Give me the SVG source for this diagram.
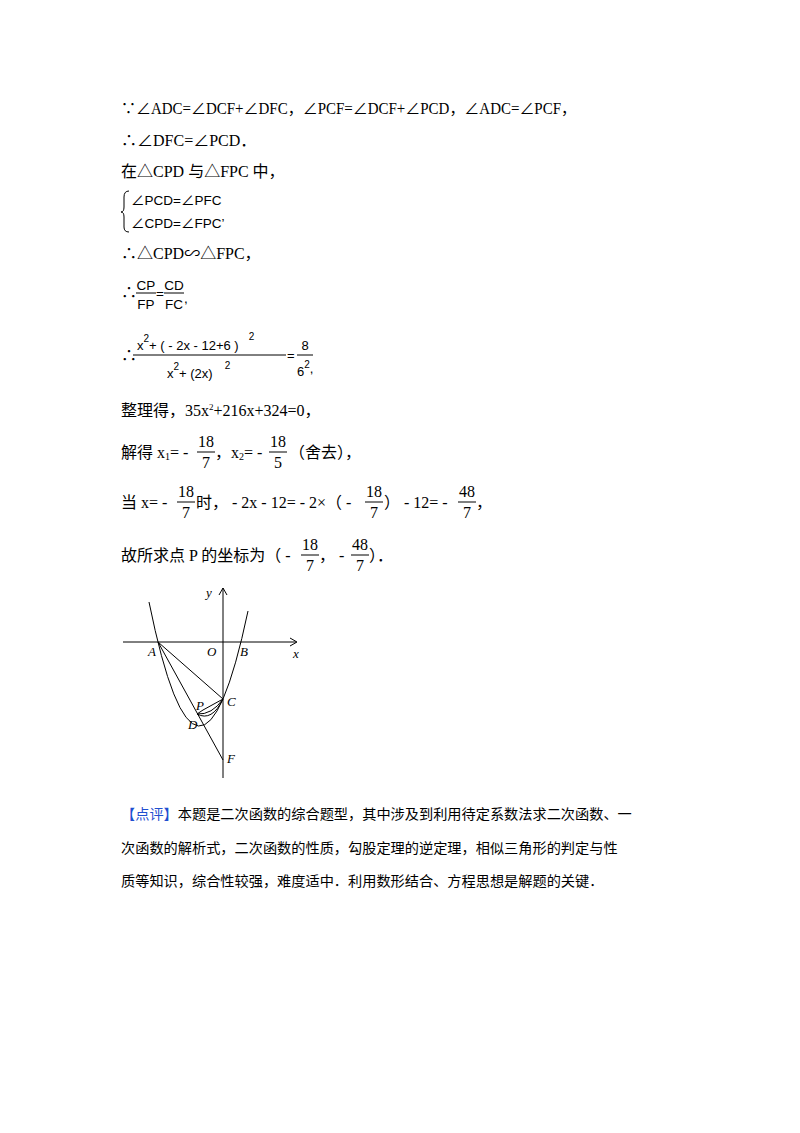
<svg xmlns="http://www.w3.org/2000/svg" width="800" height="1133" viewBox="0 0 800 1133">
<style>
text{font-family:"Liberation Serif","Noto Sans CJK SC",serif;font-size:16px;fill:#000}
.s{font-family:"Liberation Sans","Noto Sans CJK SC",sans-serif;font-size:13.5px}
.m{font-family:"Liberation Sans",sans-serif;font-size:13px}
.c{text-anchor:middle}
.cn{font-size:14.2px}
.l{font-family:"Liberation Serif",serif;font-style:italic;font-size:13px}
line,path{stroke:#000;fill:none;stroke-width:1}
</style>
<rect width="800" height="1133" fill="#fff"/>
<g id="text">
<text x="121" y="114" textLength="455" lengthAdjust="spacingAndGlyphs">∵∠ADC=∠DCF+∠DFC，∠PCF=∠DCF+∠PCD，∠ADC=∠PCF，</text>
<text x="121" y="146">∴∠DFC=∠PCD．</text>
<text x="121" y="177">在△CPD 与△FPC 中，</text>
<path d="M129 191 Q124 191 124 197 L124 207 Q124 212 121 212 Q124 212 124 217 L124 227 Q124 232 129 232"/>
<text class="s" x="131" y="205">∠PCD=∠PFC</text>
<text class="s" x="131" y="228">∠CPD=∠FPC’</text>
<text x="121" y="259">∴△CPD∽△FPC，</text>
<text x="121" y="298">∴</text>
<text class="s c" x="146" y="290">CP</text>
<line x1="136" y1="293" x2="156" y2="293"/>
<text class="s c" x="146" y="309">FP</text>
<text class="s" x="156" y="298">=</text>
<text class="s c" x="174" y="290">CD</text>
<line x1="164" y1="293" x2="184" y2="293"/>
<text class="s c" x="174" y="309">FC</text>
<text class="s" x="184" y="303">,</text>
<text x="121" y="361">∴</text>
<text class="m" x="137" y="350">x<tspan dy="-8" font-size="10">2</tspan><tspan dy="8">+ ( - 2x - 12+6 )</tspan><tspan dy="-10" dx="10" font-size="10">2</tspan></text>
<line x1="133" y1="355" x2="286" y2="355"/>
<text class="m" x="167" y="378">x<tspan dy="-8" font-size="10">2</tspan><tspan dy="8">+ (2x)</tspan><tspan dy="-9" dx="12" font-size="10">2</tspan></text>
<text class="m" x="287" y="360">=</text>
<text class="m c" x="305" y="350">8</text>
<line x1="297" y1="355" x2="313" y2="355"/>
<text class="m" x="297" y="376">6<tspan dy="-8" font-size="10">2</tspan><tspan dy="5">,</tspan></text>
<text x="121" y="416">整理得，35x<tspan dy="-6" font-size="9">2</tspan><tspan dy="6">+216x+324=0，</tspan></text>
<text x="121" y="458">解得 x<tspan font-size="10" dy="2">1</tspan><tspan dy="-2">= -</tspan></text>
<text class="c" x="206" y="447">18</text><line x1="197" y1="452" x2="215" y2="452"/><text class="c" x="206" y="468">7</text>
<text x="215" y="458">，x<tspan font-size="10" dy="2">2</tspan><tspan dy="-2">= -</tspan></text>
<text class="c" x="278" y="447">18</text><line x1="269" y1="452" x2="287" y2="452"/><text class="c" x="278" y="468">5</text>
<text x="289" y="458">（舍去），</text>
<text x="121" y="508">当 x= -</text>
<text class="c" x="186" y="497">18</text><line x1="177" y1="502" x2="195" y2="502"/><text class="c" x="186" y="518">7</text>
<text x="196" y="508">时， - 2x - 12= - 2×（ -</text>
<text class="c" x="374" y="497">18</text><line x1="365" y1="502" x2="383" y2="502"/><text class="c" x="374" y="518">7</text>
<text x="384" y="508">） - 12= -</text>
<text class="c" x="467" y="497">48</text><line x1="458" y1="502" x2="476" y2="502"/><text class="c" x="467" y="518">7</text>
<text x="476" y="508">，</text>
<text x="121" y="561">故所求点 P 的坐标为（ -</text>
<text class="c" x="310" y="550">18</text><line x1="301" y1="555" x2="319" y2="555"/><text class="c" x="310" y="571">7</text>
<text x="319" y="561">，  -</text>
<text class="c" x="360" y="550">48</text><line x1="351" y1="555" x2="369" y2="555"/><text class="c" x="360" y="571">7</text>
<text x="369" y="561">）．</text>
</g>
<g id="graph">
<line x1="123" y1="642" x2="296" y2="642"/>
<path d="M290 638 L297 642 L290 646"/>
<line x1="223" y1="778" x2="223" y2="588"/>
<path d="M219 595 L223 588 L227 595"/>
<path d="M149 602 Q198.5 845.5 248 611"/>
<line x1="158" y1="642" x2="223" y2="699"/>
<line x1="158" y1="642" x2="223" y2="760"/>
<line x1="203" y1="710" x2="223" y2="699"/>
<line x1="197" y1="714" x2="203" y2="710"/>
<path d="M197 714 Q212 722 223 699"/>
<path d="M197 714 Q212 715 223 699"/>
<text class="l" x="206" y="597">y</text>
<text class="l" x="293" y="658">x</text>
<text class="l" x="148" y="656">A</text>
<text class="l" x="207" y="656">O</text>
<text class="l" x="240" y="656">B</text>
<text class="l" x="227" y="706">C</text>
<text class="l" x="196" y="710">P</text>
<text class="l" x="188" y="729">D</text>
<text class="l" x="227" y="763">F</text>
</g>
<g id="comment">
<text x="121" y="819" class="cn"><tspan fill="#1f4fd0">【点评】</tspan>本题是二次函数的综合题型，其中涉及到利用待定系数法求二次函数、一</text>
<text x="121" y="853" class="cn">次函数的解析式，二次函数的性质，勾股定理的逆定理，相似三角形的判定与性</text>
<text x="121" y="886" class="cn">质等知识，综合性较强，难度适中．利用数形结合、方程思想是解题的关键．</text>
</g>
</svg>
